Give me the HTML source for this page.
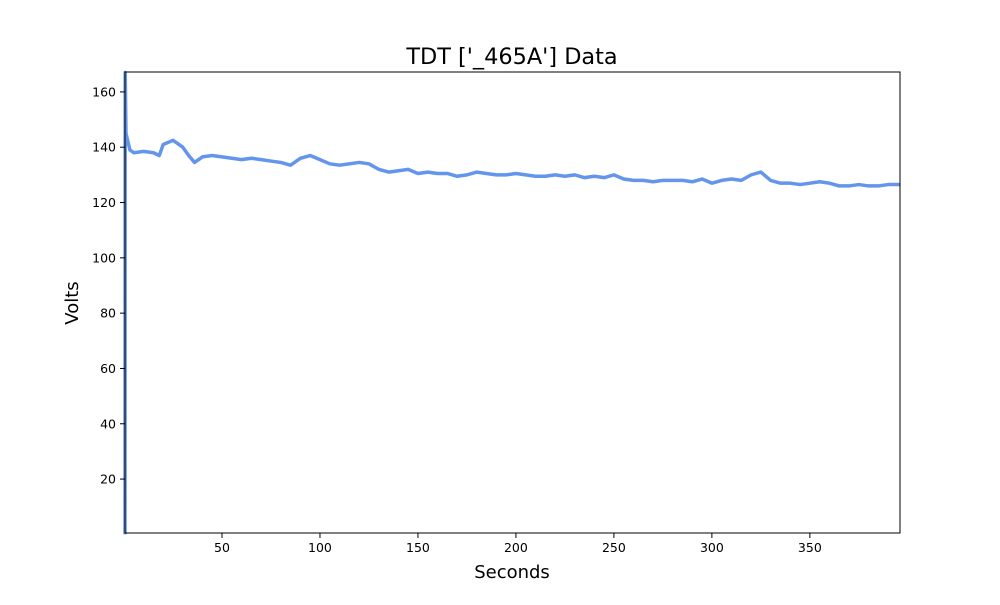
<!DOCTYPE html>
<html><head><meta charset="utf-8"><style>
body{margin:0;background:#fff;}
svg text{font-family:"DejaVu Sans","Liberation Sans",sans-serif;}
</style></head><body>
<svg id="chart" width="1000" height="600" xmlns="http://www.w3.org/2000/svg">
<text x="512" y="64" font-size="22.4" text-anchor="middle">TDT ['_465A'] Data</text>
<g id="plot"></g>
<text x="512" y="578" font-size="18" text-anchor="middle">Seconds</text>
<text x="78" y="303" font-size="18" text-anchor="middle" transform="rotate(-90 78 303)">Volts</text>
</svg>
<script>
const times=[0.5,0.6,1,3,5,10,15,18,20,25,28,30,33,36,40,45,50,55,60,65,70,75,80,85,90,95,100,105,110,115,120,125,130,135,140,145,150,155,160,165,170,175,180,185,190,195,200,205,210,215,220,225,230,235,240,245,250,255,260,265,270,275,280,285,290,295,300,305,310,315,320,325,330,335,340,345,350,355,360,365,370,375,380,385,390,396];
const volts=[0,167,145,139,138,138.5,138,137,141,142.5,141,140,137,134.5,136.5,137,136.5,136,135.5,136,135.5,135,134.5,133.5,136,137,135.5,134,133.5,134,134.5,134,132,131,131.5,132,130.5,131,130.5,130.5,129.5,130,131,130.5,130,130,130.5,130,129.5,129.5,130,129.5,130,129,129.5,129,130,128.5,128,128,127.5,128,128,128,127.5,128.5,127,128,128.5,128,130,131,128,127,127,126.5,127,127.5,127,126,126,126.5,126,126,126.5,126.5];
const xTicks=[50,100,150,200,250,300,350];
const yTicks=[20,40,60,80,100,120,140,160];
const L=125,R=900,T=72,B=533,xmin=0.5,xmax=396,ymin=0.5,ymax=167.2;
const sx=v=>L+(v-xmin)/(xmax-xmin)*(R-L);
const sy=v=>B-(v-ymin)/(ymax-ymin)*(B-T);
const NS="http://www.w3.org/2000/svg";
const g=document.getElementById('plot');
function mk(t,a){const e=document.createElementNS(NS,t);for(const k in a)e.setAttribute(k,a[k]);g.appendChild(e);return e;}
const line=mk('polyline',{points:times.map((t,i)=>sx(t)+','+sy(volts[i])).join(' '),fill:'none',stroke:'#6495ED','stroke-width':3.5,'stroke-linejoin':'round'});


const frame=mk('rect',{x:L,y:T,width:R-L,height:B-T,fill:'none',stroke:'#000','stroke-width':1});


xTicks.forEach(v=>{
 const tk=mk('line',{x1:sx(v),x2:sx(v),y1:B,y2:B+5,stroke:'#000'});
 
 
 const tx=mk('text',{x:sx(v),y:B+19,'font-size':12.5,'text-anchor':'middle'});
 tx.textContent=v;
 
 
});
yTicks.forEach(v=>{
 const tk=mk('line',{x1:L-5,x2:L,y1:sy(v),y2:sy(v),stroke:'#000'});
 
 
 const tx=mk('text',{x:L-9,y:sy(v)+4.5,'font-size':12.5,'text-anchor':'end'});
 tx.textContent=v;
 
 
});
</script>
</body></html>
